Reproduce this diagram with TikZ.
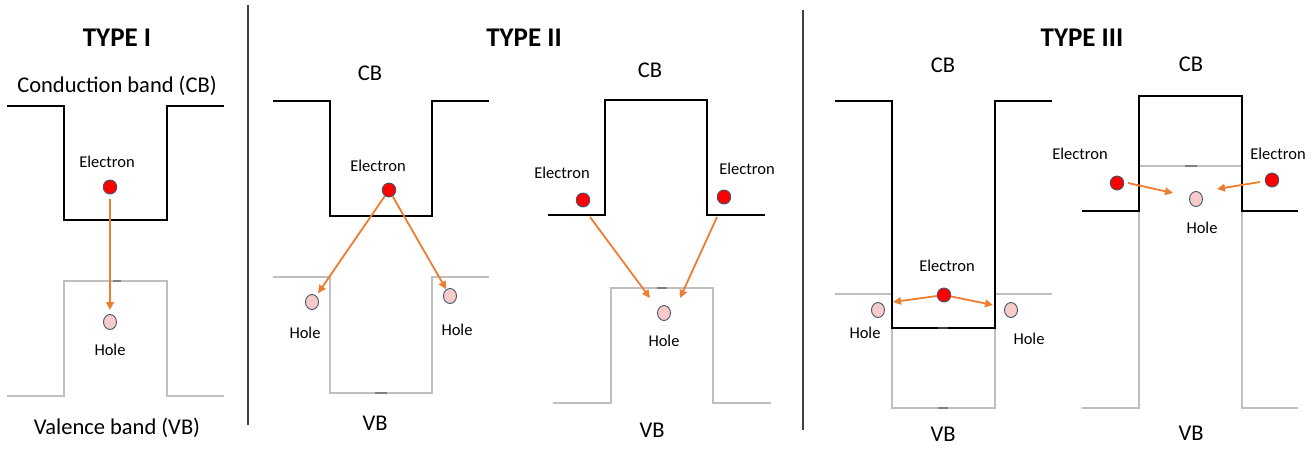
\documentclass[tikz,border=0pt]{standalone}
\usepackage{fontspec}
\setmainfont{Carlito}
\usetikzlibrary{arrows.meta,shapes.geometric}

\definecolor{vbline}{HTML}{BFBFBF}
\definecolor{tickgray}{HTML}{7F7F7F}
\definecolor{arrowor}{HTML}{ED7D31}
\definecolor{dotedge}{HTML}{44546A}
\definecolor{holefill}{HTML}{F8CBCB}
\definecolor{sepgray}{HTML}{404040}

\tikzset{
  cb/.style={line width=2.2pt, black},
  vb/.style={line width=1.8pt, vbline},
  tk/.style={line width=1.8pt, tickgray},
  electron/.style={ellipse, fill=red, draw=dotedge, line width=0.9pt, minimum width=13.5pt, minimum height=14pt, inner sep=0pt},
  hole/.style={ellipse, fill=holefill, draw=dotedge, line width=0.9pt, minimum width=13pt, minimum height=15pt, inner sep=0pt},
  flow/.style={arrowor, line width=1.8pt, -{Triangle[length=8pt,width=7.5pt]}},
  small/.style={font=\fontsize{16.5}{18}\selectfont, inner sep=0pt},
  big/.style={font=\fontsize{22.5}{26}\selectfont, inner sep=0pt},
  title/.style={font=\fontsize{27}{30}\selectfont\bfseries, inner sep=0pt},
  divider/.style={line width=1.2pt, sepgray}
}

\begin{document}
\begin{tikzpicture}[x=1pt, y=-1pt]
\useasboundingbox (0,0) rectangle (1315,448);

% ---------- dividers ----------
\draw[divider] (248,5) -- (248,425);
\draw[divider] (803,10) -- (803,430);

% ---------- titles ----------
\node[title] (t1) at (117,38) {TYPE I};
\node[title] (t2) at (524,38) {TYPE II};
\node[title] (t3) at (1082,38) {TYPE III};

% ================= TYPE I =================
\node[big] (cb1) at (117,86) {Conduction band (CB)};
\node[big] (vb1) at (117,428) {Valence band (VB)};
\draw[vb] (7,396) -- (64,396) -- (64,281) -- (167,281) -- (167,396) -- (224,396);
\draw[tk] (113,281) -- (121,281);
\draw[cb] (7,106) -- (64,106) -- (64,220) -- (167,220) -- (167,106) -- (224,106);
\node[small] (el1) at (107,162) {Electron};
\node[electron] (e1) at (110,187) {};
\node[hole] (h1) at (110,322) {};
\node[small] (hl1) at (110,350) {Hole};
\draw[flow, shorten <=5pt, shorten >=4pt] (e1) -- (h1);

% ================= TYPE II (a) =================
\node[big] (cb2) at (370,73) {CB};
\node[big] (vb2) at (375,423) {VB};
\draw[vb] (273,277) -- (330,277) -- (330,393) -- (432,393) -- (432,277) -- (489,277);
\draw[tk] (375,393) -- (387,393);
\draw[cb] (273,101) -- (330,101) -- (330,216) -- (432,216) -- (432,101) -- (489,101);
\node[small] (el2) at (378,166) {Electron};
\node[electron] (e2) at (389,190) {};
\node[hole] (h2l) at (312,302) {};
\node[hole] (h2r) at (450,296) {};
\node[small] (hl2l) at (305,333) {Hole};
\node[small] (hl2r) at (457,330) {Hole};
\draw[flow, shorten >=3pt] (e2) -- (h2l);
\draw[flow, shorten >=0pt] (e2) -- (h2r);

% ================= TYPE II (b) =================
\node[big] (cb3) at (650,70) {CB};
\node[big] (vb3) at (652,430) {VB};
\draw[vb] (553,403) -- (611,403) -- (611,288) -- (713,288) -- (713,403) -- (771,403);
\draw[tk] (657,288) -- (667,288);
\draw[cb] (548,215) -- (605,215) -- (605,100) -- (707,100) -- (707,215) -- (765,215);
\node[small] (el3l) at (562,173) {Electron};
\node[small] (el3r) at (747,169) {Electron};
\node[electron] (e3l) at (583,200) {};
\node[electron] (e3r) at (724,197) {};
\node[hole] (h3) at (664,313) {};
\node[small] (hl3) at (664,341) {Hole};
\coordinate (a3l) at (590,217);
\coordinate (b3l) at (650,298);
\coordinate (a3r) at (717,217);
\coordinate (b3r) at (680,298);
\draw[flow] (a3l) -- (b3l);
\draw[flow] (a3r) -- (b3r);

% ================= TYPE III (a) =================
\node[big] (cb4) at (943,65) {CB};
\node[big] (vb4) at (943,434) {VB};
\draw[vb] (835,294) -- (892,294) -- (892,408) -- (995,408) -- (995,294) -- (1052,294);
\draw[tk] (938,408) -- (948,408);
\draw[cb] (835,101) -- (892,101) -- (892,328) -- (995,328) -- (995,101) -- (1052,101);
\draw[line width=2.2pt, sepgray] (938,328) -- (948,328);
\node[small] (el4) at (947,266) {Electron};
\node[electron] (e4) at (944,295) {};
\node[hole] (h4l) at (878,310) {};
\node[hole] (h4r) at (1011,310) {};
\node[small] (hl4l) at (865,333) {Hole};
\node[small] (hl4r) at (1029,339) {Hole};
\coordinate (b4l) at (893,302);
\coordinate (b4r) at (993,305);
\draw[flow] (e4) -- (b4l);
\draw[flow] (e4) -- (b4r);

% ================= TYPE III (b) =================
\node[big] (cb5) at (1191,64) {CB};
\node[big] (vb5) at (1191,433) {VB};
\draw[vb] (1082,408) -- (1139,408) -- (1139,166) -- (1242,166) -- (1242,408) -- (1298,408);
\draw[tk] (1185,166) -- (1197,166);
\draw[cb] (1082,211) -- (1139,211) -- (1139,96) -- (1242,96) -- (1242,211) -- (1298,211);
\node[small] (el5l) at (1080,154) {Electron};
\node[small] (el5r) at (1278,154) {Electron};
\node[electron] (e5l) at (1117,183) {};
\node[electron] (e5r) at (1272,180) {};
\node[hole] (h5) at (1196,199) {};
\node[small] (hl5) at (1202,228) {Hole};
\coordinate (a5l) at (1128,183);
\coordinate (b5l) at (1173,193);
\coordinate (a5r) at (1260,182);
\coordinate (b5r) at (1217,189);
\draw[flow] (a5l) -- (b5l);
\draw[flow] (a5r) -- (b5r);

\end{tikzpicture}
\end{document}
